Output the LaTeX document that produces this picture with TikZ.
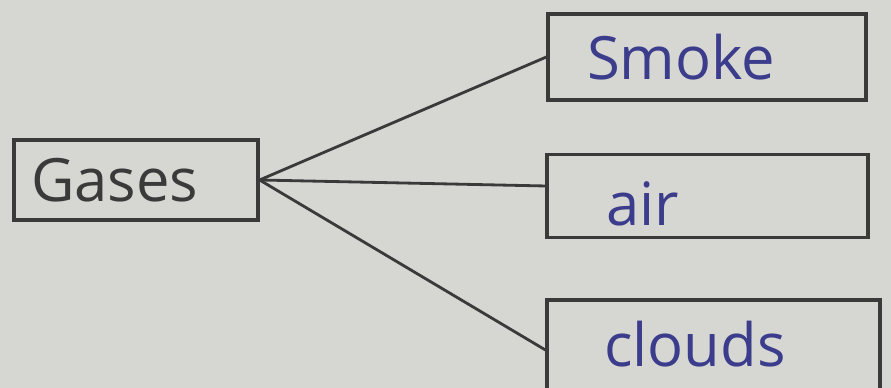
\documentclass[tikz,border=0pt]{standalone}
\usepackage{fontspec}
\setmainfont{Open Sans}
\usepackage{tikz}
\usetikzlibrary{positioning}

\definecolor{paper}{HTML}{D6D6D2}
\definecolor{pencil}{HTML}{3A3A3A}
\definecolor{ink}{HTML}{3C3C8C}

\tikzset{
  box/.style={draw=pencil, line width=0.9pt, inner sep=0pt},
  hand/.style={font=\fontsize{17}{18}\selectfont, inner sep=0pt, anchor=west},
  link/.style={draw=pencil, line width=0.8pt}
}

\begin{document}
\begin{tikzpicture}
    % paper
    \fill[paper] (0,0) rectangle (8.91,3.88);
    \useasboundingbox (0,0) rectangle (8.91,3.88);

    % Gases
    \node[box, minimum width=2.44cm, minimum height=0.8cm] (gases) at (1.36,2.08) {};
    \node[hand, pencil] (gasestext) at ([xshift=0.18cm]gases.west) {Gases};

    % kinds of gases
    \node[box, minimum width=3.18cm, minimum height=0.86cm] (smoke) at (7.07,3.31) {};
    \node[hand, ink] (smoketext) at ([xshift=0.4cm]smoke.west) {Smoke};

    \node[box, minimum width=3.21cm, minimum height=0.83cm] (air) at (7.075,1.92) {};
    \node[hand, ink] (airtext) at ([xshift=0.6cm,yshift=-0.08cm]air.west) {air};

    \node[box, minimum width=3.33cm, minimum height=1.0cm] (clouds) at (7.135,0.38) {};
    \node[hand, ink] (cloudstext) at ([xshift=0.58cm,yshift=0.06cm]clouds.west) {clouds};

    % links
    \draw[link] (gases.east) -- (smoke.west);
    \draw[link] (gases.east) -- ([yshift=0.1cm]air.west);
    \draw[link] (gases.east) -- (clouds.west);
\end{tikzpicture}
\end{document}
